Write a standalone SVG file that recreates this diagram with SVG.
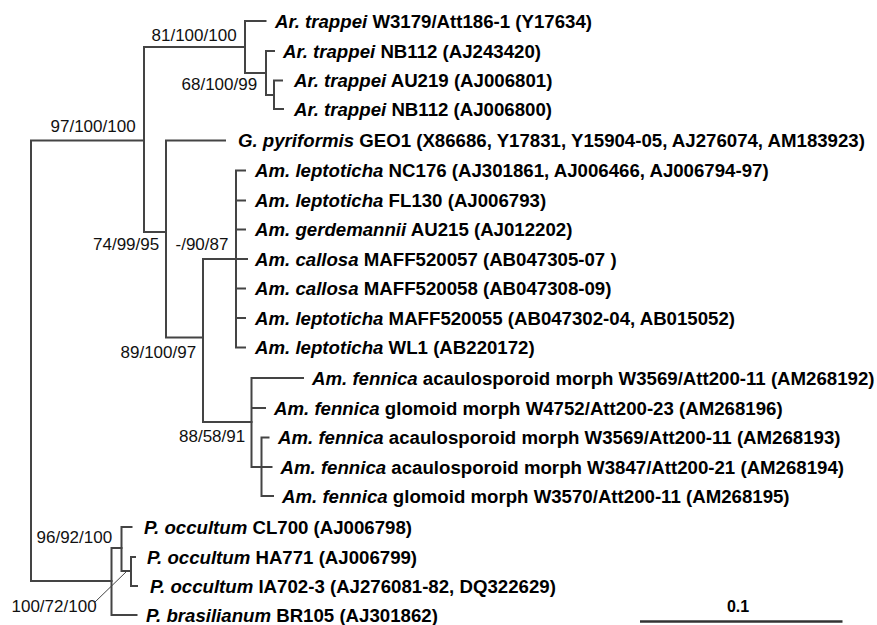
<svg xmlns="http://www.w3.org/2000/svg" width="877" height="625" viewBox="0 0 877 625">
<style>
.e{fill:none;stroke:#444;stroke-width:2;stroke-linecap:square}
.lead{fill:none;stroke:#444;stroke-width:1}
.t{font-family:"Liberation Sans",Arial,sans-serif;font-size:18.65px;font-weight:bold;fill:#000}
.t tspan.i{font-style:italic}
.s{font-family:"Liberation Sans",Arial,sans-serif;font-size:17px;fill:#111}
</style>
<rect width="877" height="625" fill="#fff"/>
<g id="connectors">
<path class="e" d="M31,140.5V581M31,140.5H144M31,581H111.5"/>
<path class="e" d="M144,47V232M144,47H245M144,232H166"/>
<path class="e" d="M245,21V73M245,21H265.5M245,73H266"/>
<path class="e" d="M266,51V95M266,51H274M266,95H274"/>
<path class="e" d="M274,80.5V109M274,80.5H282M274,109H283"/>
<path class="e" d="M166,140.5V337.5M166,140.5H225M166,337.5H203"/>
<path class="e" d="M203,259V422M203,259H236M203,422H251.5"/>
<path class="e" d="M236,170.5V347.5M236,170.5H245M236,200.5H245M236,229.5H245M236,259H247M236,288.5H245M236,318H245M236,347.5H245"/>
<path class="e" d="M251.5,378V467M251.5,378H303M251.5,408H265M251.5,467H261.5"/>
<path class="e" d="M261.5,437.5V496M261.5,437.5H268.5M261.5,467H271.5M261.5,496H273"/>
<path class="e" d="M111.5,548V615M111.5,548H121.5M111.5,615H136.5"/>
<path class="e" d="M121.5,527V571M121.5,527H131.5M121.5,571H131"/>
<path class="e" d="M131,557V586M131,557H135M131,586H137"/>
<path class="lead" d="M95,602L127,571"/>
</g>
<g id="leaves">
<g id="n1"><text class="t" x="275" y="27.5"><tspan class="i">Ar. trappei</tspan> W3179/Att186-1 (Y17634)</text></g>
<g id="n2"><text class="t" x="283" y="57.5"><tspan class="i">Ar. trappei</tspan> NB112 (AJ243420)</text></g>
<g id="n3"><text class="t" x="294" y="87"><tspan class="i">Ar. trappei</tspan> AU219 (AJ006801)</text></g>
<g id="n4"><text class="t" x="294" y="115.5"><tspan class="i">Ar. trappei</tspan> NB112 (AJ006800)</text></g>
<g id="n5"><text class="t" x="238" y="147"><tspan class="i">G. pyriformis</tspan> GEO1 (X86686, Y17831, Y15904-05, AJ276074, AM183923)</text></g>
<g id="n6"><text class="t" x="255" y="177"><tspan class="i">Am. leptoticha</tspan> NC176 (AJ301861, AJ006466, AJ006794-97)</text></g>
<g id="n7"><text class="t" x="255" y="207"><tspan class="i">Am. leptoticha</tspan> FL130 (AJ006793)</text></g>
<g id="n8"><text class="t" x="255" y="236"><tspan class="i">Am. gerdemannii</tspan> AU215 (AJ012202)</text></g>
<g id="n9"><text class="t" x="255" y="265.5"><tspan class="i">Am. callosa</tspan> MAFF520057 (AB047305-07 )</text></g>
<g id="n10"><text class="t" x="255" y="295"><tspan class="i">Am. callosa</tspan> MAFF520058 (AB047308-09)</text></g>
<g id="n11"><text class="t" x="255" y="324.5"><tspan class="i">Am. leptoticha</tspan> MAFF520055 (AB047302-04, AB015052)</text></g>
<g id="n12"><text class="t" x="255" y="354"><tspan class="i">Am. leptoticha</tspan> WL1 (AB220172)</text></g>
<g id="n13"><text class="t" x="312" y="384.5"><tspan class="i">Am. fennica</tspan> acaulosporoid morph W3569/Att200-11 (AM268192)</text></g>
<g id="n14"><text class="t" x="274" y="414.5"><tspan class="i">Am. fennica</tspan> glomoid morph W4752/Att200-23 (AM268196)</text></g>
<g id="n15"><text class="t" x="278" y="444"><tspan class="i">Am. fennica</tspan> acaulosporoid morph W3569/Att200-11 (AM268193)</text></g>
<g id="n16"><text class="t" x="280.5" y="473.5"><tspan class="i">Am. fennica</tspan> acaulosporoid morph W3847/Att200-21 (AM268194)</text></g>
<g id="n17"><text class="t" x="282" y="502.5"><tspan class="i">Am. fennica</tspan> glomoid morph W3570/Att200-11 (AM268195)</text></g>
<g id="n18"><text class="t" x="144" y="533.5"><tspan class="i">P. occultum</tspan> CL700 (AJ006798)</text></g>
<g id="n19"><text class="t" x="147" y="563.5"><tspan class="i">P. occultum</tspan> HA771 (AJ006799)</text></g>
<g id="n20"><text class="t" x="150" y="592.5"><tspan class="i">P. occultum</tspan> IA702-3 (AJ276081-82, DQ322629)</text></g>
<g id="n21"><text class="t" x="146" y="621.5"><tspan class="i">P. brasilianum</tspan> BR105 (AJ301862)</text></g>
</g>
<g id="supports">
<g id="s1"><text class="s" x="151.5" y="41">81/100/100</text></g>
<g id="s2"><text class="s" x="181.5" y="89.5">68/100/99</text></g>
<g id="s3"><text class="s" x="50.5" y="131.5">97/100/100</text></g>
<g id="s4"><text class="s" x="93" y="250">74/99/95</text></g>
<g id="s5"><text class="s" x="175.5" y="250">-/90/87</text></g>
<g id="s6"><text class="s" x="120.5" y="358">89/100/97</text></g>
<g id="s7"><text class="s" x="179" y="441.5">88/58/91</text></g>
<g id="s8"><text class="s" x="36.5" y="543">96/92/100</text></g>
<g id="s9"><text class="s" x="11.5" y="611.5">100/72/100</text></g>
</g>
<g id="scale">
<path d="M640,621.5H842.5" fill="none" stroke="#333" stroke-width="2.5"/>
<text x="738" y="611.5" text-anchor="middle" font-family="'Liberation Sans',Arial,sans-serif" font-size="16" font-weight="bold" fill="#000">0.1</text>
</g>
</svg>
